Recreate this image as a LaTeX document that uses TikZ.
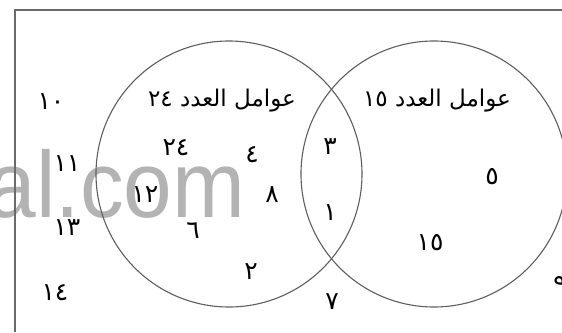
\documentclass[tikz,border=0pt]{standalone}
\usepackage{fontspec}
\TeXXeTstate=1
\newfontfamily\arabicfont[Script=Arabic]{DejaVu Sans}
\newfontfamily\wmfont{Liberation Sans}
\definecolor{framegray}{HTML}{6A6A6A}
\definecolor{circlegray}{HTML}{5E5E5E}
\definecolor{wmgray}{HTML}{B3B3B3}
\begin{document}
\begin{tikzpicture}[x=1pt,y=-1pt,
  num/.style={font=\arabicfont\fontsize{25}{25}\selectfont, inner sep=0pt},
  lbl/.style={font=\arabicfont\fontsize{23}{23}\selectfont, inner sep=0pt},
  wm/.style={font=\wmfont\fontsize{94}{94}\selectfont, text=wmgray, inner sep=0pt},
  venn/.style={circle, draw=circlegray, line width=1.1pt, minimum size=266pt, inner sep=0pt},
  framed/.style={draw=framegray, line width=1.4pt}]
\useasboundingbox (0,0) rectangle (562,332);
\clip (0,0) rectangle (562,332);
\node[wm, anchor=base west] (wm) at (-12.5,217) {\scalebox{0.93}[1]{al.com}};
\node[venn] (A) at (229,174) {};
\node[venn] (B) at (434,174) {};
\coordinate (f1) at (15,332);
\coordinate (f2) at (15,10);
\coordinate (f3) at (562,10);
\draw[framed] (f1) -- (f2) -- (f3);
\node[lbl] (la) at (222,101) {\beginR عوامل العدد \beginL ٢٤\endL\endR};
\node[lbl] (lb) at (437,101) {\beginR عوامل العدد \beginL ١٥\endL\endR};
\node[num] (n10) at (51,102) {١٠};
\node[num] (n11) at (67,164) {١١};
\node[num] (n13) at (67,228) {١٣};
\node[num] (n14) at (55,293) {١٤};
\node[num] (n12) at (145,195) {١٢};
\node[num] (n24) at (176,148) {٢٤};
\node[num] (n4) at (252,155) {٤};
\node[num] (n8) at (272,195) {٨};
\node[num] (n6) at (193,231) {٦};
\node[num] (n2) at (251,272) {٢};
\node[num] (n3) at (330,147) {٣};
\node[num] (n1) at (330,213) {١};
\node[num] (n7) at (332,302) {٧};
\node[num] (n5) at (492,177) {٥};
\node[num] (n15) at (430,243) {١٥};
\node[num] (n9) at (560,285) {٩};
\end{tikzpicture}
\end{document}
